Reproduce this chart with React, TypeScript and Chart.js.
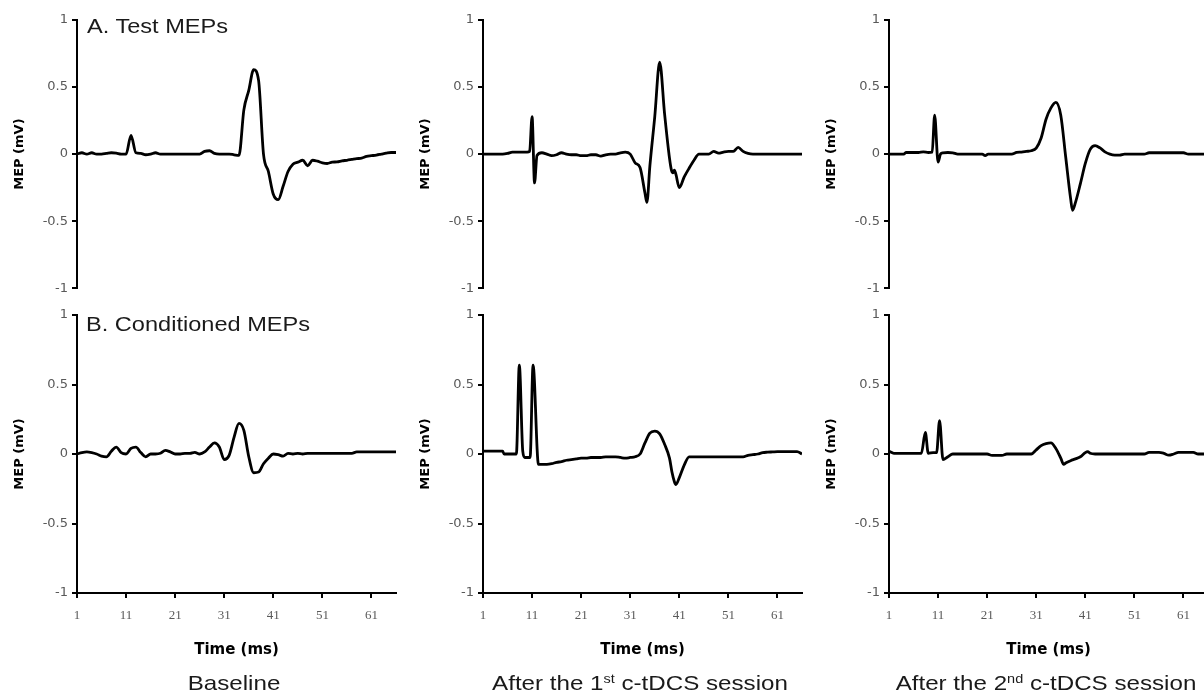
import React, { useEffect, useRef } from "react";
import { Chart, registerables } from "chart.js";
Chart.register(...registerables);

// ---------- data (time in ms, MEP in mV) ----------
const yTickValues = [-1, -0.5, 0, 0.5, 1];
const xTickValues = [1, 11, 21, 31, 41, 51, 61];
const yAxisTitle = "MEP (mV)";
const xAxisTitle = "Time (ms)";
const rowTitles = ["A. Test MEPs", "B. Conditioned MEPs"];

const testBaseline: number[][] = [
  [1, 0], [2, 0.01], [3, 0], [4, 0.01], [5, 0], [6, 0], [7, 0.005], [8, 0.01], [9, 0.007], [10, 0],
  [11, 0], [12, 0.14], [13, 0.01], [14, 0.005], [15, -0.005], [16, 0], [17, 0.01], [18, 0], [19, 0], [20, 0],
  [21, 0], [22, 0], [23, 0], [24, 0], [25, 0], [26, 0], [27, 0.02], [28, 0.025], [29, 0.005], [30, 0],
  [31, 0], [32, 0], [33, -0.005], [34, -0.01], [35, 0.33], [36, 0.475], [37, 0.63], [38, 0.55], [39, 0.0], [40, -0.13],
  [41, -0.3], [42, -0.34], [43, -0.24], [44, -0.13], [45, -0.075], [46, -0.06], [47, -0.046], [48, -0.087], [49, -0.046], [50, -0.053],
  [51, -0.065], [52, -0.07], [53, -0.06], [54, -0.058], [55, -0.05], [56, -0.046], [57, -0.04], [58, -0.034], [59, -0.03], [60, -0.017],
  [61, -0.012], [62, -0.007], [63, 0], [64, 0.007], [65, 0.012], [66, 0.012],
];

const testFirst: number[][] = [
  [1, 0], [2, 0], [3, 0], [4, 0], [5, 0], [6, 0.005], [7, 0.015], [8, 0.015], [9, 0.015], [10, 0.015],
  [10.5, 0.02], [11, 0.28], [11.5, -0.215], [12, -0.01], [13, 0.01], [14, 0], [15, -0.012], [16, -0.005], [17, 0.01], [18, 0],
  [19, -0.005], [20, -0.005], [21, -0.012], [22, -0.012], [23, -0.005], [24, -0.005], [25, -0.015], [26, -0.005], [27, 0], [28, 0],
  [29, 0.01], [30, 0.015], [31, 0], [32, -0.065], [33, -0.1], [34, -0.29], [34.4, -0.36], [35, -0.09], [36, 0.28], [37, 0.685],
  [38, 0.3], [39, -0.03], [39.4, -0.12], [39.7, -0.14], [40, -0.12], [40.3, -0.15], [41, -0.25], [42, -0.17], [43, -0.105], [44, -0.046],
  [45, 0], [46, 0], [47, 0], [48, 0.02], [49, 0.007], [50, 0.015], [51, 0.02], [52, 0.02], [53, 0.05], [54, 0.02],
  [55, 0.005], [56, 0], [57, 0], [58, 0], [59, 0], [60, 0], [61, 0], [62, 0], [63, 0], [64, 0], [65, 0], [66, 0],
];

const testSecond: number[][] = [
  [1, 0], [2, 0], [3, 0], [4, 0], [4.5, 0.012], [5, 0.012], [6, 0.012], [7, 0.012], [8, 0.017], [9, 0.012],
  [9.8, 0.015], [10.3, 0.29], [11, -0.06], [11.5, 0], [12, 0.01], [13, 0.012], [14, 0.01], [15, 0], [16, 0], [17, 0],
  [18, 0], [19, 0], [20, 0], [20.6, -0.012], [21.2, 0], [22, 0], [23, 0], [24, 0], [25, 0], [26, 0],
  [27, 0.012], [28, 0.015], [29, 0.02], [30, 0.025], [31, 0.045], [32, 0.12], [33, 0.26], [34, 0.345], [35, 0.385], [36, 0.29],
  [37, -0.02], [38, -0.33], [38.4, -0.42], [39, -0.36], [40, -0.22], [41, -0.07], [42, 0.035], [43, 0.063], [44, 0.046], [45, 0.017],
  [46, 0], [47, -0.007], [48, -0.007], [49, 0], [50, 0], [51, 0], [52, 0], [53, 0], [54, 0.01], [55, 0.01],
  [56, 0.01], [57, 0.01], [58, 0.01], [59, 0.01], [60, 0.01], [61, 0.01], [62, 0], [63, 0], [64, 0], [65, 0], [66, 0],
];

const condBaseline: number[][] = [
  [1, 0], [2, 0.01], [3, 0.015], [4, 0.01], [5, 0], [6, -0.015], [7, -0.02], [8, 0.02], [9, 0.05], [10, 0.01],
  [11, 0], [12, 0.04], [13, 0.05], [14, 0.01], [15, -0.02], [16, 0], [17, 0], [18, 0.005], [19, 0.026], [20, 0.015],
  [21, 0], [22, 0], [23, 0.005], [24, 0.005], [25, 0.012], [26, 0], [27, 0.015], [28, 0.05], [29, 0.08], [30, 0.05],
  [31, -0.04], [32, -0.01], [33, 0.12], [34, 0.22], [35, 0.17], [36, -0.02], [37, -0.135], [38, -0.13], [39, -0.07], [40, -0.03],
  [41, 0], [42, -0.005], [43, -0.015], [44, 0.005], [45, 0], [46, 0.005], [47, 0], [48, 0.005], [49, 0.005], [50, 0.005],
  [51, 0.005], [52, 0.005], [53, 0.005], [54, 0.005], [55, 0.005], [56, 0.005], [57, 0.005], [58, 0.015], [59, 0.015], [60, 0.015],
  [61, 0.015], [62, 0.015], [63, 0.015], [64, 0.015], [65, 0.015], [66, 0.015],
];

const condFirst: number[][] = [
  [1, 0.02], [2, 0.02], [3, 0.02], [4, 0.02], [5, 0.02], [5.3, 0], [6, 0], [7, 0], [7.8, 0], [8.4, 0.64],
  [9.1, 0.02], [9.5, -0.025], [10, -0.025], [10.6, -0.025], [11.2, 0.64], [12.3, -0.075], [13, -0.075], [14, -0.075], [15, -0.07], [16, -0.06],
  [17, -0.055], [18, -0.045], [19, -0.04], [20, -0.035], [21, -0.03], [22, -0.03], [23, -0.025], [24, -0.025], [25, -0.025], [26, -0.02],
  [27, -0.02], [28, -0.02], [29, -0.025], [30, -0.03], [31, -0.025], [32, -0.02], [33, 0], [34, 0.08], [35, 0.15], [36, 0.165],
  [37, 0.145], [38, 0.07], [39, -0.03], [39.5, -0.13], [40, -0.2], [40.3, -0.22], [41, -0.17], [42, -0.08], [43, -0.02], [44, -0.02],
  [45, -0.02], [46, -0.02], [47, -0.02], [48, -0.02], [49, -0.02], [50, -0.02], [51, -0.02], [52, -0.02], [53, -0.02], [54, -0.02],
  [55, -0.01], [56, -0.005], [57, 0], [58, 0.01], [59, 0.013], [60, 0.015], [61, 0.017], [62, 0.017], [63, 0.017], [64, 0.017],
  [65, 0.017], [66, 0],
];

const condSecond: number[][] = [
  [1, 0.02], [2, 0.005], [3, 0.005], [4, 0.005], [5, 0.005], [6, 0.005], [7, 0.005], [7.6, 0.005], [8.4, 0.155], [9, 0.005],
  [10, 0.01], [10.7, 0.01], [11.3, 0.24], [12, -0.04], [13, -0.02], [14, 0], [15, 0], [16, 0], [17, 0], [18, 0],
  [19, 0], [20, 0], [21, 0], [22, -0.01], [23, -0.01], [24, -0.01], [25, 0], [26, 0], [27, 0], [28, 0],
  [29, 0], [30, 0], [31, 0.03], [32, 0.06], [33, 0.075], [34, 0.08], [35, 0.04], [36, -0.03], [36.6, -0.075], [37, -0.065],
  [38, -0.048], [39, -0.035], [40, -0.02], [41, 0.01], [41.5, 0.017], [42, 0.005], [43, 0], [44, 0], [45, 0], [46, 0],
  [47, 0], [48, 0], [49, 0], [50, 0], [51, 0], [52, 0], [53, 0], [54, 0.012], [55, 0.012], [56, 0.012],
  [57, 0.005], [58, -0.008], [59, 0], [60, 0.012], [61, 0.012], [62, 0.012], [63, 0.012], [64, 0], [65, 0], [66, 0],
];

// ---------- layout ----------
const COL_X = [77, 483, 889];
const Y_AXIS_W = 77;
const PLOT_W = 319;

type PanelProps = {
  data: number[][];
  colX: number;
  top: number;
  height: number;
  padTop: number;
  padBottom: number;
  bottomRow: boolean;
};

function Panel({ data, colX, top, height, padTop, padBottom, bottomRow }: PanelProps) {
  const ref = useRef<HTMLCanvasElement>(null);
  const width = Y_AXIS_W + PLOT_W + 10;
  useEffect(() => {
    const chart = new Chart(ref.current as HTMLCanvasElement, {
      type: "line",
      data: {
        datasets: [
          {
            data: data.map(([x, y]) => ({ x, y })),
            borderColor: "#000",
            borderWidth: 2.8,
            pointRadius: 0,
            fill: false,
            cubicInterpolationMode: "monotone",
          },
        ],
      },
      options: {
        responsive: false,
        animation: false,
        devicePixelRatio: 1,
        layout: { padding: { left: 0, right: 10, top: padTop, bottom: padBottom } },
        plugins: { legend: { display: false }, tooltip: { enabled: false } },
        scales: {
          x: {
            type: "linear",
            min: 1,
            max: 66,
            display: bottomRow,
            afterBuildTicks: (s: any) => {
              s.ticks = xTickValues.map((v) => ({ value: v }));
            },
            afterFit: (s: any) => {
              s.height = bottomRow ? 70 : 0;
            },
            ticks: {
              callback: (v: any) => String(v),
              font: { family: "'Liberation Serif', serif", size: 13 },
              color: "#595959",
              padding: 10,
              maxRotation: 0,
            },
            grid: { drawOnChartArea: false, drawTicks: true, tickLength: 5, color: "#000", lineWidth: 2 },
            border: { display: true, color: "#000", width: 2 },
            title: {
              display: true,
              text: xAxisTitle,
              font: { family: "'DejaVu Sans', sans-serif", size: 15, weight: "bold" },
              color: "#000",
              padding: { top: 0, bottom: 4 },
            },
          },
          y: {
            type: "linear",
            min: -1,
            max: 1,
            afterBuildTicks: (s: any) => {
              s.ticks = yTickValues.map((v) => ({ value: v }));
            },
            afterFit: (s: any) => {
              s.width = Y_AXIS_W;
            },
            ticks: {
              callback: (v: any) => String(v),
              font: { family: "'DejaVu Sans', sans-serif", size: 13 },
              color: "#595959",
              padding: 4,
            },
            grid: { drawOnChartArea: false, drawTicks: true, tickLength: 5, color: "#000", lineWidth: 2 },
            border: { display: true, color: "#000", width: 2 },
            title: {
              display: true,
              text: yAxisTitle,
              font: { family: "'DejaVu Sans', sans-serif", size: 13, weight: "bold" },
              color: "#000",
              padding: { top: 12, bottom: 0 },
            },
          },
        },
      } as any,
    });
    return () => chart.destroy();
  }, []);
  return (
    <canvas
      ref={ref}
      width={width}
      height={height}
      style={{ position: "absolute", left: colX - Y_AXIS_W, top, width, height }}
    />
  );
}

const textBase: React.CSSProperties = {
  position: "absolute",
  fontFamily: "'Liberation Sans', Arial, sans-serif",
  color: "#1a1a1a",
  lineHeight: 1,
  whiteSpace: "nowrap",
};

function Caption({ colX, children }: { colX: number; children: React.ReactNode }) {
  return (
    <div
      style={{
        ...textBase,
        left: colX + 157 - 250,
        width: 500,
        top: 672,
        fontSize: 21,
        textAlign: "center",
        transform: "scaleX(1.15)",
        transformOrigin: "center",
      }}
    >
      {children}
    </div>
  );
}

const sup: React.CSSProperties = { fontSize: "0.6em", position: "relative", top: "-0.55em" };

export default function App() {
  const topRow = [testBaseline, testFirst, testSecond];
  const bottomRow = [condBaseline, condFirst, condSecond];
  return (
    <div
      style={{
        position: "absolute",
        left: 0,
        top: 0,
        width: 1204,
        height: 694,
        overflow: "hidden",
        background: "#fff",
      }}
    >
      {topRow.map((d, i) => (
        <Panel key={"t" + i} data={d} colX={COL_X[i]} top={0} height={300} padTop={20} padBottom={5} bottomRow={false} />
      ))}
      {bottomRow.map((d, i) => (
        <Panel key={"b" + i} data={d} colX={COL_X[i]} top={300} height={394} padTop={15} padBottom={31} bottomRow={true} />
      ))}
      <div style={{ ...textBase, left: 87, top: 15.5, fontSize: 20.5, transform: "scaleX(1.15)", transformOrigin: "left" }}>
        {rowTitles[0]}
      </div>
      <div style={{ ...textBase, left: 86, top: 314, fontSize: 20.5, transform: "scaleX(1.15)", transformOrigin: "left" }}>
        {rowTitles[1]}
      </div>
      <Caption colX={COL_X[0]}>Baseline</Caption>
      <Caption colX={COL_X[1]}>
        After the 1<span style={sup}>st</span> c-tDCS session
      </Caption>
      <Caption colX={COL_X[2]}>
        After the 2<span style={sup}>nd</span> c-tDCS session
      </Caption>
    </div>
  );
}
